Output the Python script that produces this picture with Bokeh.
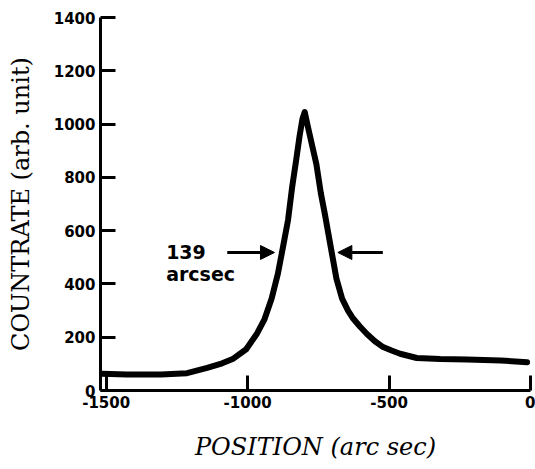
from bokeh.plotting import figure
from bokeh.models import Range1d, FixedTicker, Arrow, NormalHead, Label
from bokeh.embed import file_html
from bokeh.resources import INLINE

# Data
position = [-1515, -1427, -1306, -1214, -1143, -1090, -1053, -1005, -966, -940,
            -915, -893, -875, -857, -843, -829, -816, -806, -798, -787,
            -772, -757, -741, -727, -704, -686, -666, -645, -627, -603,
            -579, -550, -521, -491, -461, -402, -319, -225, -106, -12]
countrate = [63, 60, 60, 65, 85, 102, 118, 155, 215, 268,
             345, 438, 538, 640, 760, 860, 957, 1020, 1045, 990,
             920, 850, 740, 663, 526, 420, 345, 300, 270, 240,
             213, 185, 163, 150, 138, 122, 118, 116, 113, 106]

x_ticks = [-1500, -1000, -500, 0]
y_ticks = [0, 200, 400, 600, 800, 1000, 1200, 1400]

fwhm_left = [-1072, -905]
fwhm_right = [-522, -681]
fwhm_y = 518
fwhm_text = "139"
fwhm_unit = "arcsec"

p = figure(width=535, height=469, output_backend="svg", toolbar_location=None,
           x_range=Range1d(-1520, 0), y_range=Range1d(0, 1400),
           min_border_left=100, min_border_right=5, min_border_top=17,
           min_border_bottom=79)
p.outline_line_color = None
p.grid.visible = False
p.background_fill_color = "white"
p.border_fill_color = "white"

p.line(position, countrate, line_width=6, line_color="black", line_join="round",
       line_cap="round")

for ax, ticks in ((p.xaxis[0], x_ticks), (p.yaxis[0], y_ticks)):
    ax.ticker = FixedTicker(ticks=ticks)
    ax.major_label_overrides = {t: str(t) for t in ticks}
    ax.axis_line_width = 3
    ax.axis_line_color = "black"
    ax.major_tick_line_width = 3
    ax.major_tick_line_color = "black"
    ax.major_tick_in = 15
    ax.major_tick_out = 0
    ax.minor_tick_line_color = None
    ax.major_label_text_font = "DejaVu Sans"
    ax.major_label_text_font_style = "bold"
    ax.major_label_text_font_size = "15px"
    ax.major_label_text_color = "black"
    ax.major_label_standoff = 5

p.xaxis.axis_label = "POSITION (arc sec)"
p.xaxis.axis_label_text_font = "DejaVu Serif"
p.xaxis.axis_label_text_font_style = "italic"
p.xaxis.axis_label_text_font_size = "24px"
p.xaxis.axis_label_text_color = "black"
p.xaxis.axis_label_standoff = 22

p.yaxis.axis_label = "COUNTRATE (arb. unit)"
p.yaxis.axis_label_text_font = "DejaVu Serif"
p.yaxis.axis_label_text_font_style = "normal"
p.yaxis.axis_label_text_font_size = "24px"
p.yaxis.axis_label_text_color = "black"
p.yaxis.axis_label_standoff = 16

for xs in (fwhm_left, fwhm_right):
    p.add_layout(Arrow(end=NormalHead(size=14, fill_color="black", line_color="black"),
                       x_start=xs[0], y_start=fwhm_y, x_end=xs[1], y_end=fwhm_y,
                       line_width=3, line_color="black"))

p.add_layout(Label(x=-1288, y=fwhm_y, text=fwhm_text, text_font="DejaVu Sans",
                   text_font_style="bold", text_font_size="19px",
                   text_baseline="middle", text_color="black"))
p.add_layout(Label(x=-1288, y=439, text=fwhm_unit, text_font="DejaVu Sans",
                   text_font_style="bold", text_font_size="19px",
                   text_baseline="middle", text_color="black"))

open("out.html", "w").write(file_html(p, INLINE))
